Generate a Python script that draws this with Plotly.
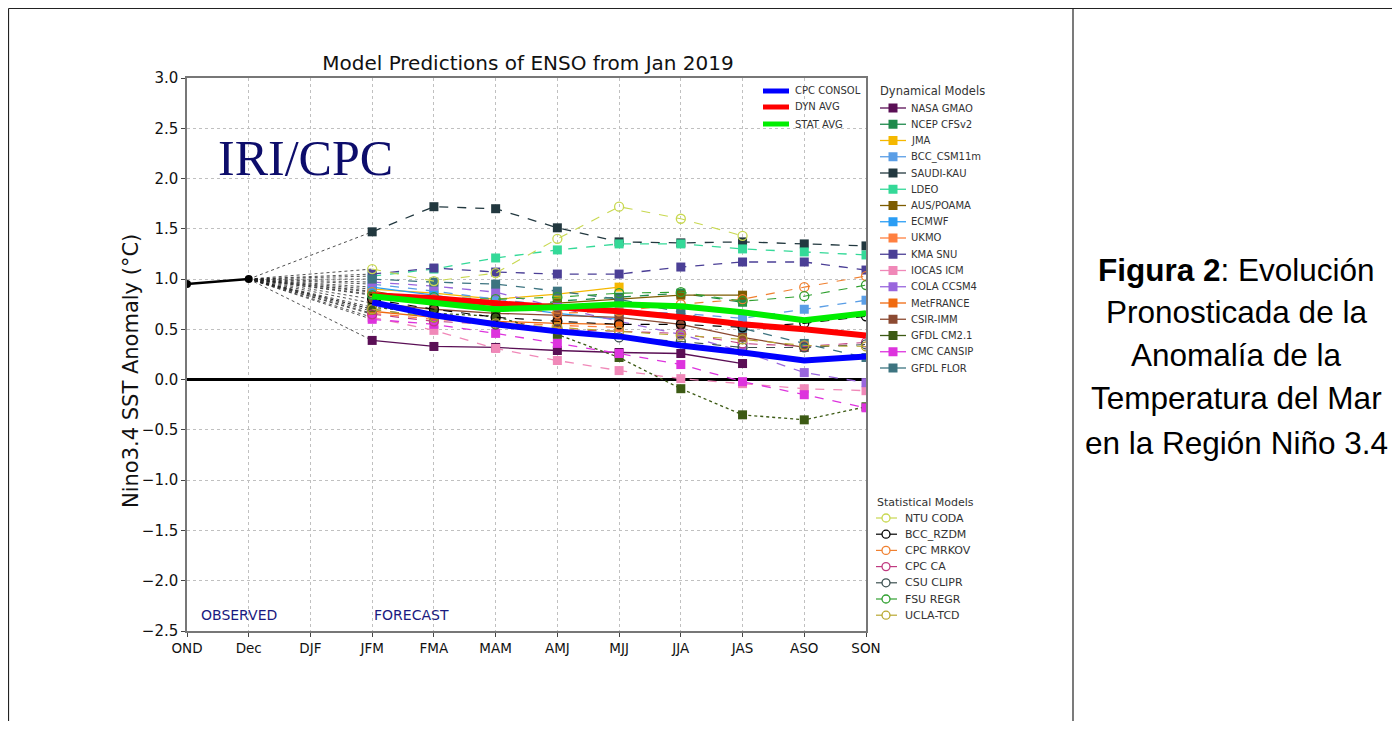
import plotly.graph_objects as go

# ---------------- data ----------------
seasons = ["OND", "Dec", "DJF", "JFM", "FMA", "MAM", "AMJ", "MJJ", "JJA", "JAS", "ASO", "SON"]
forecast_seasons = ["JFM", "FMA", "MAM", "AMJ", "MJJ", "JJA", "JAS", "ASO", "SON"]
observed_seasons = ["OND", "Dec"]
observed_values = [0.95, 1.00]
y_ticks = [3.0, 2.5, 2.0, 1.5, 1.0, 0.5, 0.0, -0.5, -1.0, -1.5, -2.0, -2.5]

# consensus / averages
cpc_consol = [0.77, 0.64, 0.55, 0.48, 0.43, 0.34, 0.27, 0.19, 0.23]
dyn_avg = [0.84, 0.81, 0.76, 0.72, 0.68, 0.62, 0.55, 0.50, 0.44]
stat_avg = [0.83, 0.76, 0.70, 0.72, 0.75, 0.73, 0.67, 0.59, 0.66]

# dynamical models
nasa_gmao = [0.39, 0.33, 0.32, 0.29, 0.27, 0.26, 0.16, None, None]
ncep_cfsv2 = [0.85, 0.80, 0.68, 0.78, 0.82, 0.86, 0.77, None, None]
jma = [0.90, 0.86, 0.80, 0.85, 0.92, None, None, None, None]
bcc_csm11m = [0.95, 0.88, 0.80, 0.73, 0.68, 0.66, 0.61, 0.70, 0.79]
saudi_kau = [1.47, 1.72, 1.70, 1.51, 1.37, 1.36, 1.37, 1.35, 1.33]
ldeo = [1.03, 1.10, 1.21, 1.29, 1.35, 1.35, 1.30, 1.27, 1.24]
aus_poama = [0.88, 0.78, 0.70, 0.76, 0.80, 0.84, 0.84, None, None]
ecmwf = [0.92, 0.84, 0.74, 0.66, 0.60, None, None, None, None]
ukmo = [0.66, 0.60, 0.57, 0.54, 0.52, None, None, None, None]
kma_snu = [1.05, 1.11, 1.07, 1.05, 1.05, 1.12, 1.17, 1.17, 1.09]
iocas_icm = [0.62, 0.49, 0.31, 0.19, 0.09, 0.01, -0.04, -0.09, -0.11]
cola_ccsm4 = [0.97, 0.93, 0.87, 0.72, 0.58, 0.45, 0.28, 0.07, -0.03]
metfrance = [0.68, 0.62, 0.58, 0.56, 0.55, None, None, None, None]
csir_imm = [0.76, 0.70, 0.66, 0.64, 0.62, 0.55, 0.42, 0.32, None]
gfdl_cm21 = [0.72, 0.66, 0.63, 0.45, 0.22, -0.09, -0.35, -0.40, -0.27]
cmc_cansip = [0.60, 0.55, 0.46, 0.36, 0.26, 0.15, -0.02, -0.15, -0.28]
gfdl_flor = [1.00, 0.97, 0.95, 0.88, 0.80, 0.67, 0.51, 0.36, 0.22]

# statistical models
ntu_coda = [1.10, 0.98, 1.06, 1.40, 1.72, 1.60, 1.43, None, None]
bcc_rzdm = [0.80, 0.70, 0.62, 0.58, 0.55, 0.55, 0.52, 0.56, 0.63]
cpc_mrkov = [0.87, 0.80, 0.74, 0.66, 0.68, 0.75, 0.80, 0.92, 1.03]
cpc_ca = [0.65, 0.58, 0.55, 0.50, 0.48, 0.46, 0.36, 0.33, 0.37]
csu_clipr = [0.70, 0.62, 0.55, 0.50, 0.42, 0.38, 0.32, 0.32, 0.35]
fsu_regr = [0.84, 0.82, 0.80, 0.82, 0.86, 0.87, 0.78, 0.83, 0.94]
ucla_tcd = [0.70, 0.62, 0.56, 0.52, 0.48, 0.44, 0.40, 0.34, 0.33]

avg_names = ["CPC CONSOL", "DYN AVG", "STAT AVG"]
avg_series = [cpc_consol, dyn_avg, stat_avg]

dyn_names = ["NASA GMAO", "NCEP CFSv2", "JMA", "BCC_CSM11m", "SAUDI-KAU", "LDEO",
             "AUS/POAMA", "ECMWF", "UKMO", "KMA SNU", "IOCAS ICM", "COLA CCSM4",
             "MetFRANCE", "CSIR-IMM", "GFDL CM2.1", "CMC CANSIP", "GFDL FLOR"]
dyn_series = [nasa_gmao, ncep_cfsv2, jma, bcc_csm11m, saudi_kau, ldeo, aus_poama, ecmwf,
              ukmo, kma_snu, iocas_icm, cola_ccsm4, metfrance, csir_imm, gfdl_cm21,
              cmc_cansip, gfdl_flor]

stat_names = ["NTU CODA", "BCC_RZDM", "CPC MRKOV", "CPC CA", "CSU CLIPR", "FSU REGR", "UCLA-TCD"]
stat_series = [ntu_coda, bcc_rzdm, cpc_mrkov, cpc_ca, csu_clipr, fsu_regr, ucla_tcd]

# ---------------- styles ----------------
avg_colors = ["#0000ff", "#ff0000", "#00ee00"]
dyn_colors = ["#5a0f55", "#1f8a4c", "#f5b800", "#5a9ee6", "#22383f", "#34d998",
              "#7d5c00", "#2a9df4", "#ff8040", "#4b3f96", "#f088b8", "#9966dd",
              "#f06a10", "#8c4a32", "#3c5a14", "#dd33dd", "#3d7480"]
dyn_dash = ["solid", "dash", "solid", "dash", "dash", "dash", "solid", "solid", "dash",
            "dash", "dash", "dash", "solid", "solid", "dot", "dash", "dash"]
stat_colors = ["#c8d850", "#000000", "#f08030", "#c03a80", "#3c5050", "#30a030", "#b8a830"]

FIG_W, FIG_H = 1384, 713
OFF = 8
L, T, PW, PH = 179, 70, 679, 553


def PX(x):
    return (x - OFF - L) / PW


def PY(y):
    return (T + PH - (y - OFF)) / PH


fig = go.Figure()

# dotted connectors from last observation to first forecast
cx, cy = [], []
for s in dyn_series + stat_series:
    cx += [observed_seasons[-1], forecast_seasons[0], None]
    cy += [observed_values[-1], s[0], None]
fig.add_trace(go.Scatter(x=cx, y=cy, mode="lines", showlegend=False, hoverinfo="skip",
                         line=dict(color="#222222", width=0.8, dash="dot")))

for name, s, c, d in zip(dyn_names, dyn_series, dyn_colors, dyn_dash):
    fig.add_trace(go.Scatter(x=forecast_seasons, y=s, mode="lines+markers", name=name,
                             showlegend=False,
                             line=dict(color=c, width=1.3, dash=d),
                             marker=dict(symbol="square", size=9, color=c)))

for name, s, c in zip(stat_names, stat_series, stat_colors):
    fig.add_trace(go.Scatter(x=forecast_seasons, y=s, mode="lines+markers", name=name,
                             showlegend=False,
                             line=dict(color=c, width=1.1, dash="dash"),
                             marker=dict(symbol="circle-open", size=9, color=c,
                                         line=dict(width=1.3, color=c))))

for name, s, c in zip(avg_names, avg_series, avg_colors):
    fig.add_trace(go.Scatter(x=forecast_seasons, y=s, mode="lines", name=name,
                             showlegend=False, line=dict(color=c, width=6)))

fig.add_trace(go.Scatter(x=observed_seasons, y=observed_values, mode="lines+markers",
                         name="Observed", showlegend=False,
                         line=dict(color="#000000", width=2.5),
                         marker=dict(symbol="circle", size=8, color="#000000")))

shapes = []
annotations = []

# ---- custom legends ----
LEG_FONT = dict(family="DejaVu Sans", size=10, color="#333333")
STAT_FONT = dict(family="DejaVu Sans", size=11, color="#333333")
avg_rows = [91, 107, 124]
for name, c, yy in zip(avg_names, avg_colors, avg_rows):
    shapes.append(dict(type="line", xref="paper", yref="paper", x0=PX(763), x1=PX(789),
                       y0=PY(yy), y1=PY(yy), line=dict(color=c, width=5)))
    annotations.append(dict(text=name, xref="paper", yref="paper", x=PX(793), y=PY(yy),
                            xanchor="left", yanchor="middle", showarrow=False, font=LEG_FONT))

annotations.append(dict(text="Dynamical Models", xref="paper", yref="paper", x=PX(878), y=PY(91),
                        xanchor="left", yanchor="middle", showarrow=False,
                        font=dict(family="DejaVu Sans", size=11.5, color="#333333")))
for i, (name, c) in enumerate(zip(dyn_names, dyn_colors)):
    yy = 108 + i * 16.25
    shapes.append(dict(type="line", xref="paper", yref="paper", x0=PX(880), x1=PX(906),
                       y0=PY(yy), y1=PY(yy), line=dict(color=c, width=1.3)))
    shapes.append(dict(type="rect", xref="paper", yref="paper", x0=PX(888.5), x1=PX(897.5),
                       y0=PY(yy + 4.5), y1=PY(yy - 4.5), fillcolor=c, line=dict(width=0)))
    annotations.append(dict(text=name, xref="paper", yref="paper", x=PX(909), y=PY(yy),
                            xanchor="left", yanchor="middle", showarrow=False, font=LEG_FONT))

annotations.append(dict(text="Statistical Models", xref="paper", yref="paper", x=PX(875), y=PY(502),
                        xanchor="left", yanchor="middle", showarrow=False, font=STAT_FONT))
for i, (name, c) in enumerate(zip(stat_names, stat_colors)):
    yy = 518 + i * 16.2
    shapes.append(dict(type="line", xref="paper", yref="paper", x0=PX(876), x1=PX(897),
                       y0=PY(yy), y1=PY(yy), line=dict(color=c, width=1.2)))
    shapes.append(dict(type="circle", xref="paper", yref="paper", x0=PX(882), x1=PX(890),
                       y0=PY(yy + 4), y1=PY(yy - 4), fillcolor="white",
                       line=dict(color=c, width=1.3)))
    annotations.append(dict(text=name, xref="paper", yref="paper", x=PX(903), y=PY(yy),
                            xanchor="left", yanchor="middle", showarrow=False, font=STAT_FONT))

# ---- labels inside plot ----
annotations.append(dict(text="IRI/CPC", xref="paper", yref="paper", x=PX(216), y=PY(158),
                        xanchor="left", yanchor="middle", showarrow=False,
                        font=dict(family="Liberation Serif", size=50, color="#0d0d6b")))
annotations.append(dict(text="OBSERVED", xref="paper", yref="paper", x=PX(199), y=PY(615),
                        xanchor="left", yanchor="middle", showarrow=False,
                        font=dict(family="DejaVu Sans", size=14, color="#1a1a80")))
annotations.append(dict(text="FORECAST", xref="paper", yref="paper", x=PX(372), y=PY(615),
                        xanchor="left", yanchor="middle", showarrow=False,
                        font=dict(family="DejaVu Sans", size=14, color="#1a1a80")))

# ---- y-axis title ----
annotations.append(dict(text="Nino3.4 SST Anomaly (°C)", xref="paper", yref="paper",
                        x=PX(131), y=PY(371), xanchor="center", yanchor="middle",
                        textangle=-90, showarrow=False,
                        font=dict(family="DejaVu Sans", size=21, color="#111111")))

# ---- caption on the right ----
CAP_FONT = dict(family="Liberation Sans, Arial", size=31.5, color="#000000")
caption_lines = ["<b>Figura 2</b>: Evolución", "Pronosticada de la", "Anomalía de la",
                 "Temperatura del Mar", "en la Región Niño 3.4"]
caption_rows = [270, 312, 355, 398, 443]
for txt, yy in zip(caption_lines, caption_rows):
    annotations.append(dict(text=txt, xref="paper", yref="paper", x=PX(1236), y=PY(yy),
                            xanchor="center", yanchor="middle", showarrow=False, font=CAP_FONT))

# ---- table borders ----
for (x0, y0, x1, y1) in [(8.5, 8.5, 1400, 8.5), (8.5, 8.5, 8.5, 729), (1073, 8.5, 1073, 729)]:
    shapes.append(dict(type="line", xref="paper", yref="paper", x0=PX(x0), x1=PX(x1),
                       y0=PY(y0), y1=PY(y1), line=dict(color="#222222", width=1.2)))

fig.update_layout(
    width=FIG_W, height=FIG_H,
    margin=dict(l=L, r=FIG_W - L - PW, t=T, b=FIG_H - T - PH, pad=0),
    paper_bgcolor="white", plot_bgcolor="white",
    title=dict(text="Model Predictions of ENSO from Jan 2019", x=PX(528), xref="paper",
               xanchor="center", y=1 - (63 - OFF) / FIG_H, yref="container", yanchor="middle",
               font=dict(family="DejaVu Sans", size=20, color="#111111")),
    shapes=shapes, annotations=annotations, showlegend=False,
    font=dict(family="DejaVu Sans", color="#111111"),
)
fig.update_xaxes(type="category", categoryorder="array", categoryarray=seasons,
                 range=[0, len(seasons) - 1], showgrid=True, gridcolor="#c0c0c0", griddash="dot",
                 gridwidth=1, showline=True, mirror=True, linecolor="#777777", linewidth=1.5,
                 ticks="outside", ticklen=4, tickcolor="#444444",
                 tickfont=dict(family="DejaVu Sans", size=13.5, color="#111111"), zeroline=False)
fig.update_yaxes(range=[-2.5, 3.0], tickvals=y_ticks, tickformat=".1f", showgrid=True,
                 gridcolor="#c0c0c0", griddash="dot", gridwidth=1, showline=True, mirror=True,
                 linecolor="#777777", linewidth=1.5, ticks="outside", ticklen=4, tickcolor="#444444",
                 tickfont=dict(family="DejaVu Sans", size=15, color="#111111"),
                 zeroline=True, zerolinecolor="#000000", zerolinewidth=3)

fig.write_html("out.html")
